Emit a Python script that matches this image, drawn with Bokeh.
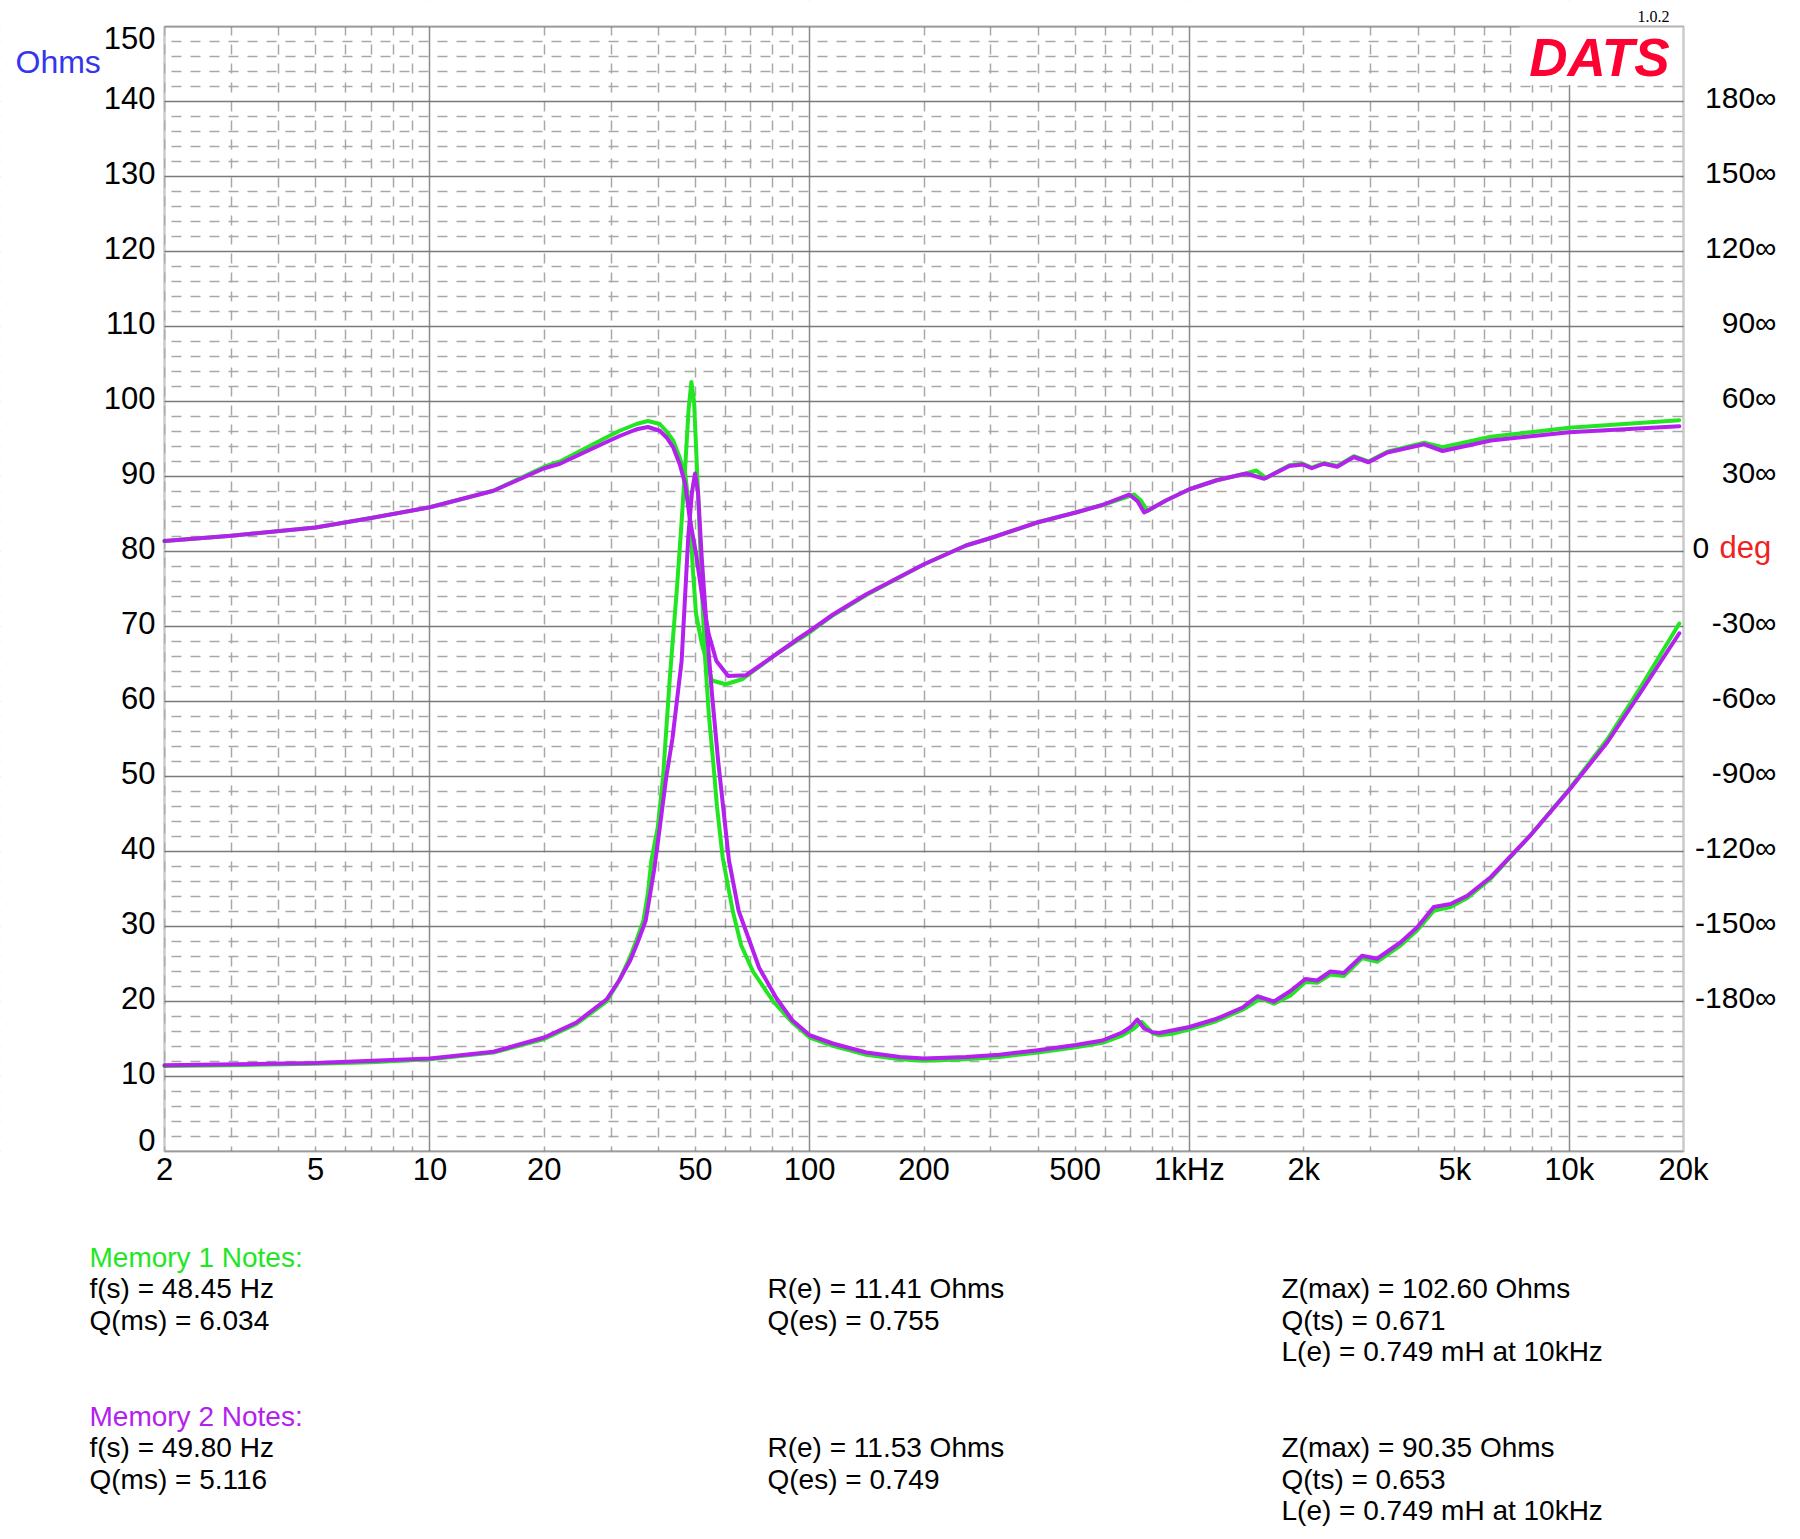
from bokeh.plotting import figure
from bokeh.models import (Range1d, FixedTicker, Label, LinearAxis, BoxAnnotation,
                          CustomJSTickFormatter)
from bokeh.embed import file_html
from bokeh.resources import INLINE

FONT = "Liberation Sans"
GREEN = "#22e622"
PURPLE = "#b420ee"

# ---------------- data ----------------
# Memory 1 impedance (Ohms)
m1_imp_f = [2, 3, 5, 7, 10, 14.7, 20, 24.3, 29.2, 31.5, 33.7, 35.0, 36.5, 37.5, 38.3, 39.8,
            41.1, 42.8, 44.7, 46.0, 47.1, 48.0, 48.8, 49.6, 50.2, 51.0, 52.0, 53.0, 54.3,
            55.7, 57.0, 59.0, 62.7, 66.0, 70.9, 80.2, 90, 100, 115, 141, 173, 200, 258,
            316, 399, 502, 590, 667, 710, 749, 775, 800, 833, 900, 1000, 1180, 1380, 1540,
            1670, 1845, 2020, 2170, 2350, 2550, 2850, 3120, 3600, 3980, 4400, 4870, 5390,
            6220, 7920, 10000, 12620, 15460, 19500]
m1_imp_z = [11.4, 11.5, 11.7, 11.9, 12.3, 13.2, 15.0, 17.0, 20.0, 22.8, 26.0, 28.2, 30.8,
            34.5, 38.8, 43.2, 49.9, 63.0, 75.0, 84.0, 92.0, 99.0, 102.6, 100.0, 94.0, 86.0,
            75.0, 66.0, 58.0, 52.0, 46.0, 39.2, 32.1, 27.5, 24.0, 20.0, 17.2, 15.2, 14.1,
            12.9, 12.3, 12.1, 12.3, 12.6, 13.2, 13.9, 14.5, 15.5, 16.3, 17.3, 16.5, 15.8,
            15.5, 15.7, 16.3, 17.4, 18.9, 20.4, 19.7, 20.8, 22.6, 22.5, 23.6, 23.4, 25.8,
            25.3, 27.5, 29.5, 32.1, 32.6, 33.8, 36.4, 42.2, 48.3, 55.0, 62.0, 70.4]

# Memory 2 impedance (Ohms)
m2_imp_f = [2, 5, 10, 14.7, 20, 24.3, 29.2, 31.5, 33.7, 35.3, 37.0, 38.9, 40.3, 41.9, 43.5,
            46.0, 47.9, 49.0, 49.9, 50.8, 52.0, 53.5, 55.3, 57.4, 61.3, 65.0, 73.6, 81.6,
            90, 100, 115, 141, 173, 200, 258, 316, 399, 502, 590, 667, 700, 729, 760, 800,
            833, 1000, 1180, 1380, 1510, 1670, 1845, 2020, 2170, 2350, 2550, 2850, 3120,
            3600, 3980, 4400, 4870, 5390, 6220, 7920, 10000, 12620, 15460, 19500]
m2_imp_z = [11.5, 11.8, 12.4, 13.3, 15.2, 17.2, 20.3, 22.8, 25.5, 28.0, 30.8, 37.4, 43.2,
            49.9, 55.0, 65.4, 82.0, 88.0, 90.4, 88.0, 79.0, 70.0, 61.0, 52.1, 38.8, 32.1,
            24.5, 20.5, 17.5, 15.5, 14.4, 13.2, 12.6, 12.4, 12.6, 12.9, 13.5, 14.2, 14.8,
            15.9, 16.6, 17.6, 16.4, 15.9, 15.8, 16.6, 17.7, 19.2, 20.7, 20.0, 21.4, 23.0,
            22.8, 24.0, 23.8, 26.1, 25.7, 27.9, 29.9, 32.6, 33.0, 34.1, 36.6, 42.2, 48.2,
            54.6, 61.3, 69.1]

# Memory 1 phase (degrees)
m1_ph_f = [2, 3, 5, 7, 10, 14.7, 20, 22, 28.6, 31.6, 35, 37.5, 40.3, 42, 43.7, 45.5, 47.0,
           48.3, 49.2, 50.2, 52.0, 55.3, 60.1, 66.6, 81.6, 94, 100, 115.2, 141, 200, 258,
           300, 399, 502, 590, 715, 745, 776, 867, 1000, 1180, 1410, 1500, 1592, 1834,
           1990, 2100, 2260, 2450, 2710, 2960, 3320, 4150, 4640, 6220, 10000, 19500]
m1_ph_deg = [4.2, 6.3, 9.6, 13.4, 17.7, 24.3, 33.9, 36.0, 45.0, 48.3, 51.0, 52.2, 51.0,
             48.0, 44.4, 37.5, 30.9, 16.2, -6.3, -24.9, -36.9, -51.6, -53.1, -51.0, -41.1,
             -35.0, -32.4, -25.5, -17.4, -5.1, 2.4, 5.4, 11.7, 15.6, 18.6, 22.8, 20.4,
             16.2, 20.4, 24.9, 28.5, 31.2, 32.4, 29.4, 34.5, 35.1, 33.6, 35.4, 34.2, 38.1,
             36.0, 39.9, 43.5, 41.7, 45.9, 49.5, 52.5]

# Memory 2 phase (degrees)
m2_ph_f = [2, 3, 5, 7, 10, 14.7, 20, 22, 28.6, 31.6, 35, 37.5, 40.3, 42, 43.7, 45.5, 47.0,
           48.3, 50.2, 52.0, 54.2, 56.8, 61.0, 68.0, 81.6, 94, 100, 115.2, 141, 200, 258,
           300, 399, 502, 590, 694, 730, 760, 867, 1000, 1180, 1410, 1574, 1834, 1990,
           2100, 2260, 2450, 2710, 2960, 3320, 4150, 4640, 6220, 10000, 19500]
m2_ph_deg = [4.2, 6.3, 9.6, 13.4, 17.7, 24.3, 33.3, 35.1, 43.2, 46.2, 48.9, 49.8, 48.3,
             45.6, 41.7, 34.8, 27.0, 13.5, -0.9, -17.1, -33.0, -43.8, -49.8, -49.5, -41.1,
             -34.5, -31.8, -25.2, -17.1, -5.1, 2.4, 5.4, 11.7, 15.6, 18.6, 22.8, 20.1,
             15.6, 20.4, 24.9, 28.5, 31.2, 29.1, 34.2, 34.8, 33.3, 35.1, 33.9, 37.8, 35.7,
             39.6, 42.9, 40.2, 44.4, 47.7, 50.1]

# ticks
x_ticks = [2, 5, 10, 20, 50, 100, 200, 500, 1000, 2000, 5000, 10000, 20000]
x_labels = ["2", "5", "10", "20", "50", "100", "200", "500", "1kHz", "2k", "5k", "10k", "20k"]
x_decades = [10, 100, 1000, 10000]
x_minor = [m * d for d in (1, 10, 100, 1000) for m in range(2, 10)]
y_major = list(range(0, 151, 10))
y_minor = [v for v in range(0, 151, 2) if v % 10]
y_inner_ticks = y_major[1:-1]            # 0 and 150 are drawn nudged inside the chart
deg_ticks = [180, 150, 120, 90, 60, 30, -30, -60, -90, -120, -150, -180]

# notes
m1_title = "Memory 1 Notes:"
m1_col1 = ["f(s) = 48.45 Hz", "Q(ms) = 6.034"]
m1_col2 = ["R(e) = 11.41 Ohms", "Q(es) = 0.755"]
m1_col3 = ["Z(max) = 102.60 Ohms", "Q(ts) = 0.671", "L(e) = 0.749 mH at 10kHz"]
m2_title = "Memory 2 Notes:"
m2_col1 = ["f(s) = 49.80 Hz", "Q(ms) = 5.116"]
m2_col2 = ["R(e) = 11.53 Ohms", "Q(es) = 0.749"]
m2_col3 = ["Z(max) = 90.35 Ohms", "Q(ts) = 0.653", "L(e) = 0.749 mH at 10kHz"]

# ---------------- geometry (canvas pixels) ----------------
W, H = 1792, 1536
CH_L, CH_R, CH_T, CH_B = 164, 1683, 26, 1151      # chart rectangle
PX_PER_OHM = (CH_B - CH_T) / 150.0
LIFT = 4                                          # optical centring of scale labels (px)


def F(px):      # canvas x -> frequency
    return 2 * 10 ** ((px - CH_L) * 4.0 / (CH_R - CH_L))


def Y(py):      # canvas y -> ohms
    return (CH_B - py) / PX_PER_OHM


def D(py):      # canvas y -> degrees
    return (Y(py) - 80.0) * 3.0


def SX(px):
    return px


def SY(py):     # screen units of annotations count from the bottom
    return H - py


p = figure(x_axis_type="log", x_range=Range1d(F(0), F(W)), y_range=Range1d(Y(H), Y(0)),
           width=W, height=H, min_border=0, output_backend="svg", toolbar_location=None,
           background_fill_color="white", border_fill_color="white")
p.title.visible = False
p.outline_line_color = None
p.extra_y_ranges = {"phase": Range1d(D(H), D(0))}

# grids
p.xgrid.ticker = FixedTicker(ticks=x_decades, minor_ticks=x_minor)
p.xgrid.grid_line_color = "#8a8a8a"
p.xgrid.grid_line_width = 1.5
p.xgrid.minor_grid_line_color = "#a8a8a8"
p.xgrid.minor_grid_line_width = 1.5
p.xgrid.minor_grid_line_dash = "10 9"
p.ygrid.ticker = FixedTicker(ticks=y_major, minor_ticks=y_minor)
p.ygrid.grid_line_color = "#7a7a7a"
p.ygrid.grid_line_width = 1.5
p.ygrid.minor_grid_line_color = "#a8a8a8"
p.ygrid.minor_grid_line_width = 1.5
p.ygrid.minor_grid_line_dash = "10 9"

# white masks (overlapping, so no seams) keep the grid inside the chart rectangle
BIG = 1e7
for kw in (dict(left=1e-6, right=2, bottom=-BIG, top=BIG),
           dict(left=20000, right=1e12, bottom=-BIG, top=BIG),
           dict(left=1e-6, right=1e12, bottom=150, top=BIG),
           dict(left=1e-6, right=1e12, bottom=-BIG, top=0),
           dict(left=7400, right=20000, bottom=142.2, top=150)):      # logo area
    p.add_layout(BoxAnnotation(fill_color="white", fill_alpha=1.0, line_color=None,
                               level="underlay", **kw))

# chart border
p.add_layout(BoxAnnotation(left=2, right=20000, bottom=0, top=150, fill_alpha=0.0,
                           line_color="#505050", line_width=2.5))


def style_axis(ax, size="31px", color="black", standoff=0):
    ax.axis_line_color = None
    ax.major_tick_line_color = None
    ax.minor_tick_line_color = None
    ax.major_tick_out = 0
    ax.major_tick_in = 0
    ax.minor_tick_out = 0
    ax.minor_tick_in = 0
    ax.major_label_text_font = FONT
    ax.major_label_text_font_size = size
    ax.major_label_text_color = color
    ax.major_label_standoff = standoff


xa = p.xaxis[0]
xa.fixed_location = 0
xa.ticker = FixedTicker(ticks=x_ticks)
xa.formatter = CustomJSTickFormatter(args=dict(t=x_ticks, l=x_labels), code="""
    let best = 0, bd = 1e9;
    for (let i = 0; i < t.length; i++) {
        const d = Math.abs(Math.log(t[i]) - Math.log(tick));
        if (d < bd) { bd = d; best = i; }
    }
    return bd < 1e-6 ? l[best] : "";
""")
style_axis(xa, standoff=0)

# Ohms scale: labels lifted by LIFT px so they sit optically centred on their lines
ohm_lift = LIFT / PX_PER_OHM
ya = p.yaxis[0]
ya.fixed_location = 2
ya.ticker = FixedTicker(ticks=[v + ohm_lift for v in y_inner_ticks])
ya.formatter = CustomJSTickFormatter(args=dict(s=ohm_lift),
                                     code="return Math.round(tick - s).toFixed(0);")
style_axis(ya, standoff=9)

# phase scale (labels right-aligned at the right margin)
deg_lift = 3.0 * LIFT / PX_PER_OHM
pa = LinearAxis(y_range_name="phase", fixed_location=F(1776),
                ticker=FixedTicker(ticks=[d + deg_lift for d in deg_ticks]),
                formatter=CustomJSTickFormatter(
                    args=dict(s=deg_lift),
                    code="return Math.round(tick - s).toFixed(0) + '\u221e';"))
style_axis(pa, size="30px", standoff=0)
p.add_layout(pa, "left")

# curves
p.line(m1_imp_f, m1_imp_z, line_color=GREEN, line_width=4, line_join="round",
       line_cap="round")
p.line(m1_ph_f, m1_ph_deg, y_range_name="phase", line_color=GREEN, line_width=4,
       line_join="round", line_cap="round")
p.line(m2_imp_f, m2_imp_z, line_color=PURPLE, line_width=4, line_join="round",
       line_cap="round")
p.line(m2_ph_f, m2_ph_deg, y_range_name="phase", line_color=PURPLE, line_width=4,
       line_join="round", line_cap="round")


def label(text, px, py, size="28px", color="black", align="left", font=FONT,
          style="normal", baseline="middle"):
    p.add_layout(Label(x=SX(px), y=SY(py), x_units="screen", y_units="screen", text=text,
                       text_font=font, text_font_size=size, text_color=color,
                       text_font_style=style, text_align=align, text_baseline=baseline))


# end labels of the Ohms scale, nudged inside like the original
label(str(y_major[-1]), 155, 37, size="31px", align="right")
label(str(y_major[0]), 155, 1139, size="31px", align="right")

label("DATS", 1669, 57, size="53px", color="#ff0033", align="right", style="bold italic")
label("1.0.2", 1669, 16, size="16px", align="right", font="Liberation Serif")
label("Ohms", 15, 61, size="32px", color="#3535ee")

# "0 deg" on the phase scale
p.add_layout(Label(x=SX(1692), y=0, y_offset=LIFT, x_units="screen", y_range_name="phase",
                   text="0", text_font=FONT, text_font_size="30px", text_color="black",
                   text_align="left", text_baseline="middle"))
p.add_layout(Label(x=SX(1719), y=0, y_offset=LIFT, x_units="screen", y_range_name="phase",
                   text="deg", text_font=FONT, text_font_size="31px", text_color="#ee2222",
                   text_align="left", text_baseline="middle"))

# notes
COLS = (89, 767, 1281)
ROW = 31.3
for title, cols, color, y0 in ((m1_title, (m1_col1, m1_col2, m1_col3), GREEN, 1257),
                               (m2_title, (m2_col1, m2_col2, m2_col3), PURPLE, 1416)):
    label(title, COLS[0], y0, color=color)
    for cx, lines in zip(COLS, cols):
        for i, t in enumerate(lines):
            label(t, cx, y0 + ROW * (i + 1))

open("out.html", "w").write(file_html(p, INLINE))
